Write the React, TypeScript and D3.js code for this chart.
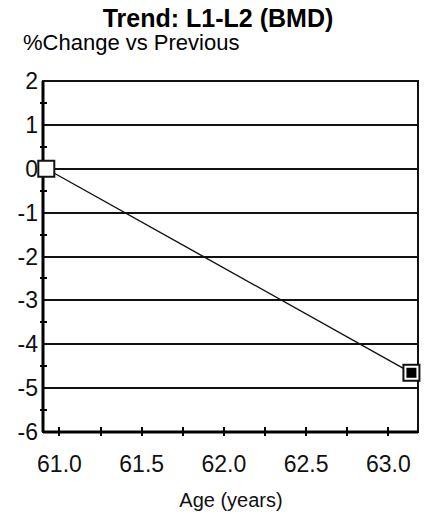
import React, { useEffect, useRef } from 'react';
import * as d3 from 'd3';

// data
const ageValues = [60.92, 63.14];
const changeValues = [0, -4.65];
const yTicks = [2, 1, 0, -1, -2, -3, -4, -5, -6];
const yMinorTicks = [1.5, 0.5, -0.5, -1.5, -2.5, -3.5, -4.5, -5.5];
const xTicks = [61.0, 61.5, 62.0, 62.5, 63.0];
const xMinorTicks = [61.0, 61.25, 61.5, 61.75, 62.0, 62.25, 62.5, 62.75, 63.0];

const W = 424;
const H = 517;
const font = '"Liberation Sans", Arial, sans-serif';

const App = () => {
    const svgRef = useRef<SVGSVGElement | null>(null);

    useEffect(() => {
        if (!svgRef.current) return;
        const svg = d3.select(svgRef.current);
        svg.selectAll('*').remove();

        const plot = { left: 43, right: 418, top: 81, bottom: 432 };

        const x = d3.scaleLinear().domain([60.9, 63.18]).range([plot.left, plot.right]);
        const y = d3.scaleLinear().domain([-6, 2]).range([plot.bottom, plot.top]);
        const ry = (v: number) => Math.round(y(v));
        const rx = (v: number) => Math.round(x(v));

        svg.append('rect').attr('width', W).attr('height', H).attr('fill', '#fff');

        // titles
        svg.append('text')
            .attr('x', 218).attr('y', 27)
            .attr('text-anchor', 'middle')
            .style('font-family', font).style('font-size', '25px').style('font-weight', 'bold')
            .attr('fill', '#000')
            .text('Trend: L1-L2 (BMD)');

        svg.append('text')
            .attr('x', 23).attr('y', 50)
            .style('font-family', font).style('font-size', '22px')
            .attr('fill', '#000')
            .text('%Change vs Previous');

        // gridlines
        svg.append('g')
            .selectAll('line')
            .data(yTicks.filter(t => t > -6 && t < 2))
            .join('line')
            .attr('x1', plot.left).attr('x2', plot.right)
            .attr('y1', d => ry(d)).attr('y2', d => ry(d))
            .attr('stroke', '#111').attr('stroke-width', 2);

        // frame
        svg.append('rect')
            .attr('x', plot.left).attr('y', plot.top)
            .attr('width', plot.right - plot.left).attr('height', plot.bottom - plot.top)
            .attr('fill', 'none').attr('stroke', '#111').attr('stroke-width', 2);

        // heavier left / bottom axes
        svg.append('line')
            .attr('x1', plot.left).attr('x2', plot.left)
            .attr('y1', plot.top).attr('y2', plot.bottom)
            .attr('stroke', '#000').attr('stroke-width', 3);
        svg.append('line')
            .attr('x1', plot.left).attr('x2', plot.right)
            .attr('y1', plot.bottom).attr('y2', plot.bottom)
            .attr('stroke', '#000').attr('stroke-width', 3);

        // minor ticks on y axis
        svg.append('g')
            .selectAll('line')
            .data(yMinorTicks)
            .join('line')
            .attr('x1', plot.left - 3).attr('x2', plot.left + 4)
            .attr('y1', d => ry(d)).attr('y2', d => ry(d))
            .attr('stroke', '#000').attr('stroke-width', 2);

        // ticks on x axis
        svg.append('g')
            .selectAll('line')
            .data(xMinorTicks)
            .join('line')
            .attr('x1', d => rx(d)).attr('x2', d => rx(d))
            .attr('y1', plot.bottom - 5).attr('y2', plot.bottom + 4)
            .attr('stroke', '#000').attr('stroke-width', 2);

        // y labels (plain hyphen like the original)
        svg.append('g')
            .selectAll('text')
            .data(yTicks)
            .join('text')
            .attr('x', plot.left - 5)
            .attr('y', d => ry(d) + 8)
            .attr('text-anchor', 'end')
            .style('font-family', font).style('font-size', '23px')
            .attr('fill', '#111')
            .text(d => String(d));

        // x labels
        svg.append('g')
            .selectAll('text')
            .data(xTicks)
            .join('text')
            .attr('x', d => x(d))
            .attr('y', 472)
            .attr('text-anchor', 'middle')
            .style('font-family', font).style('font-size', '23px')
            .attr('fill', '#111')
            .text(d => d3.format('.1f')(d));

        svg.append('text')
            .attr('x', 231).attr('y', 507)
            .attr('text-anchor', 'middle')
            .style('font-family', font).style('font-size', '20px')
            .attr('fill', '#111')
            .text('Age (years)');

        // trend line
        const pts = ageValues.map((a, i) => [x(a), y(changeValues[i])] as [number, number]);
        svg.append('path')
            .attr('d', d3.line()(pts))
            .attr('fill', 'none')
            .attr('stroke', '#111')
            .attr('stroke-width', 1.4);

        // markers
        const s = 16;
        pts.forEach(([px, py], i) => {
            svg.append('rect')
                .attr('x', px - s / 2).attr('y', py - s / 2)
                .attr('width', s).attr('height', s)
                .attr('fill', '#fff').attr('stroke', '#111').attr('stroke-width', 2);
            if (i === pts.length - 1) {
                svg.append('rect')
                    .attr('x', px - 5).attr('y', py - 5)
                    .attr('width', 10).attr('height', 10)
                    .attr('fill', '#000');
            }
        });
    }, []);

    return (
        <svg
            ref={svgRef}
            width={W}
            height={H}
            style={{ position: 'absolute', left: 0, top: 0 }}
        />
    );
};

export default App;
